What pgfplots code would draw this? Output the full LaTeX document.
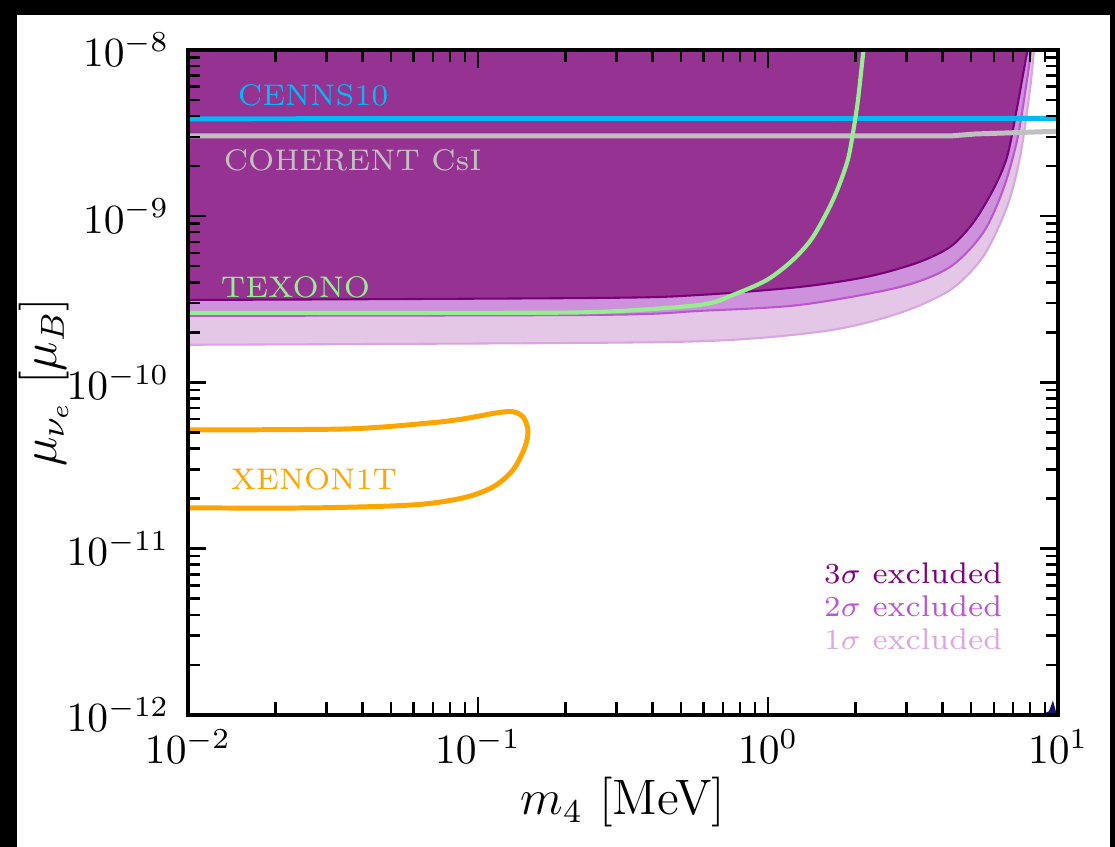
\documentclass[border=0pt]{standalone}
\usepackage{pgfplots}
\pgfplotsset{compat=1.18}
\usepackage{pgfplotstable}
\definecolor{cthreefill}{RGB}{150,50,145}
\definecolor{cthreeedge}{RGB}{120,0,120}
\definecolor{ctwofill}{RGB}{206,146,220}
\definecolor{ctwoedge}{RGB}{186,85,211}
\definecolor{conefill}{RGB}{228,198,231}
\definecolor{coneedge}{RGB}{218,165,225}
\definecolor{cenns}{RGB}{0,185,245}
\definecolor{coh}{RGB}{192,192,192}
\definecolor{texono}{RGB}{150,238,144}
\definecolor{xenon}{RGB}{255,165,0}
\definecolor{leg3}{RGB}{128,0,128}
\definecolor{leg2}{RGB}{186,85,211}
\definecolor{leg1}{RGB}{221,165,225}
\definecolor{navyc}{RGB}{20,20,110}

\pgfplotstableread{
x y
0.01 3.13e-10
0.2636 3.22e-10
0.5834 3.357e-10
1.288 3.75e-10
2.193 4.315e-10
3.266 5.236e-10
4.246 6.531e-10
5.093 9.099e-10
5.970 1.439e-9
6.668 2.270e-9
7.228 4.539e-9
7.816 9.594e-9
7.943 1e-8
}\sigthree

\pgfplotstableread{
x y
0.01 2.512e-10
0.2636 2.547e-10
0.5834 2.692e-10
1.288 2.924e-10
2.851 3.75e-10
4.246 4.955e-10
5.508 7.925e-10
6.457 1.439e-9
7.228 2.877e-9
7.816 6.607e-9
8.072 1e-8
}\sigtwo

\pgfplotstableread{
x y
0.01 1.683e-10
0.2636 1.730e-10
0.7568 1.803e-10
1.675 2.070e-10
2.851 2.618e-10
4.246 3.597e-10
5.508 5.689e-10
6.668 1.138e-9
7.396 2.270e-9
7.998 5.741e-9
8.260 1e-8
}\sigone

\pgfplotstableread{
x y
0.01 2.618e-10
0.1016 2.618e-10
0.2636 2.655e-10
0.5834 2.924e-10
0.7568 3.357e-10
0.9931 4.140e-10
1.219 5.458e-10
1.429 7.499e-10
1.675 1.253e-9
1.871 2.089e-9
1.963 3.170e-9
2.042 5.0e-9
2.128 9.594e-9
2.143 1e-8
}\texono

\pgfplotstableread{
x y
0.01 5.176e-11
0.03532 5.248e-11
0.06823 5.702e-11
0.08872 6.026e-11
0.1164 6.561e-11
0.1321 6.653e-11
0.1429 6.194e-11
0.1486 5.176e-11
0.1452 4.093e-11
0.1321 2.979e-11
0.1127 2.350e-11
0.08872 2.018e-11
0.05970 1.832e-11
0.02698 1.758e-11
0.01 1.758e-11
}\xenon

\begin{document}
\begin{tikzpicture}
\fill[black] (-45.3pt,-31.8pt) rectangle (223.3pt,172.2pt);
\fill[white] (-41.2pt,-31.8pt) rectangle (222.1pt,168.6pt);
\begin{axis}[
  at={(0,0)}, anchor=south west,
  scale only axis, width=209.6pt, height=160.2pt,
  xmode=log, ymode=log,
  xmin=1e-2, xmax=10, ymin=1e-12, ymax=1e-8,
  axis on top,
  axis line style={line width=1pt},
  tick align=inside,
  major tick length=4.3pt, minor tick length=3pt,
  every tick/.style={black, line width=0.6pt},
  tick label style={font=\normalsize},
  yticklabel style={xshift=-1pt},
  label style={font=\large},
  xlabel={$m_4$ [MeV]},
  ylabel={$\mu_{\nu_e}$ [$\mu_B$]},
  ylabel style={at={(axis description cs:-0.1655,0.5)}, anchor=center},
  xlabel style={at={(axis description cs:0.5,-0.150)}, anchor=base},
]
\addplot[fill=conefill, draw=none, smooth] table {\sigone} -- (rel axis cs:0,1) -- cycle;
\addplot[coneedge, line width=0.5pt, smooth] table {\sigone};

\addplot[fill=ctwofill, draw=none, smooth] table {\sigtwo} -- (rel axis cs:0,1) -- cycle;
\addplot[ctwoedge, line width=0.5pt, smooth] table {\sigtwo};

\addplot[fill=cthreefill, draw=none, smooth] table {\sigthree} -- (rel axis cs:0,1) -- cycle;
\addplot[cthreeedge, line width=0.5pt, smooth] table {\sigthree};

\addplot[cenns, line width=1.2pt] coordinates {(0.01,3.85e-9) (10,3.87e-9)};
\addplot[coh, line width=1.2pt] coordinates {(0.01,3.04e-9) (4.3,3.04e-9) (5.2,3.12e-9) (10,3.24e-9)};
\addplot[texono, line width=1pt, smooth] table {\texono};
\addplot[xenon, line width=1.2pt, smooth] table {\xenon};

\addplot[fill=navyc, draw=none] coordinates {(8.7,1e-12) (9.3,1.05e-12) (9.6,1.22e-12) (9.9,1e-12)};

\node[anchor=west, inner sep=0pt, text=cenns, font=\fontsize{7.2}{8.6}\selectfont] at (axis cs:0.01476,5.36e-9) {CENNS10};
\node[anchor=west, inner sep=0pt, text=coh, font=\fontsize{7.2}{8.6}\selectfont] at (axis cs:0.0132,2.18e-9) {COHERENT CsI};
\node[anchor=west, inner sep=0pt, text=texono, font=\fontsize{7.2}{8.6}\selectfont] at (axis cs:0.0129,3.75e-10) {TEXONO};
\node[anchor=west, inner sep=0pt, text=xenon, font=\fontsize{7.2}{8.6}\selectfont] at (axis cs:0.01396,2.6e-11) {XENON1T};

\node[anchor=east, inner sep=0pt, text=leg3, font=\fontsize{7.2}{8.6}\selectfont] at (axis cs:6.46,7.14e-12) {$3\sigma$ excluded};
\node[anchor=east, inner sep=0pt, text=leg2, font=\fontsize{7.2}{8.6}\selectfont] at (axis cs:6.46,4.47e-12) {$2\sigma$ excluded};
\node[anchor=east, inner sep=0pt, text=leg1, font=\fontsize{7.2}{8.6}\selectfont] at (axis cs:6.46,2.83e-12) {$1\sigma$ excluded};
\end{axis}
\end{tikzpicture}
\end{document}
